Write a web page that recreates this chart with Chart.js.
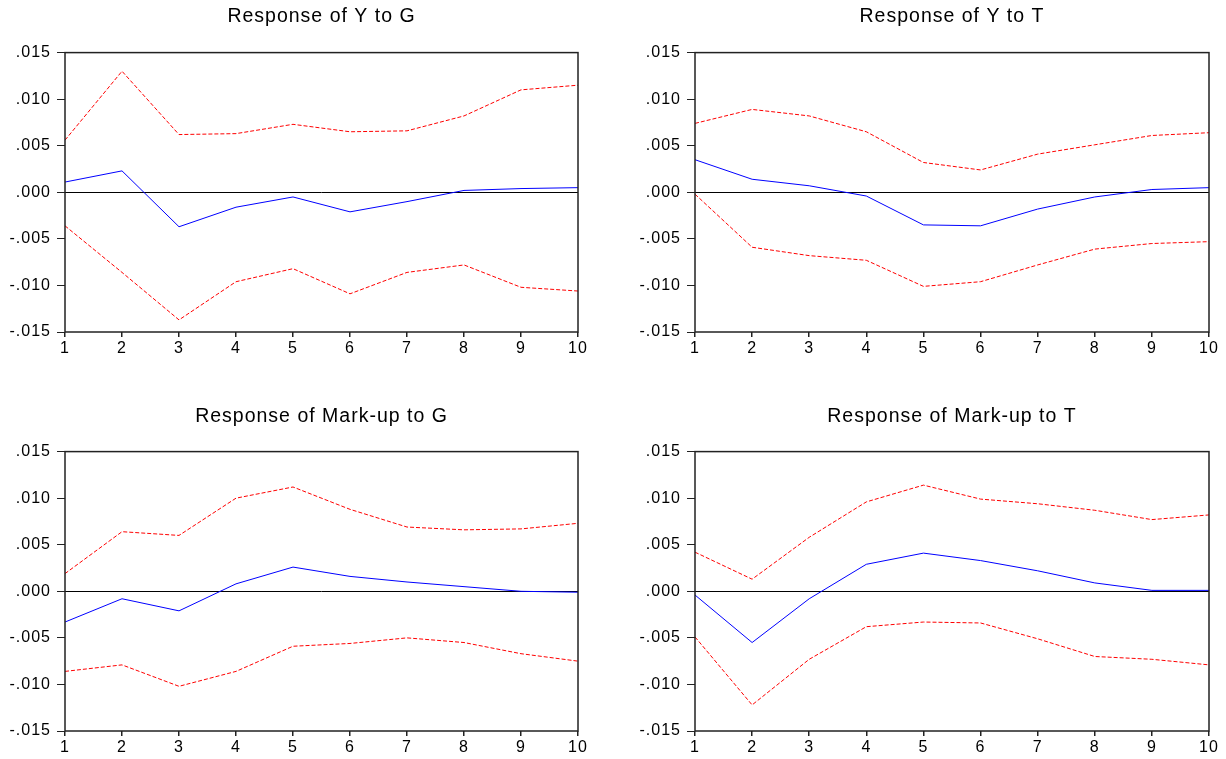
<!DOCTYPE html>
<html><head><meta charset="utf-8">
<script src="https://cdn.jsdelivr.net/npm/chart.js@4.4.1/dist/chart.umd.min.js"></script>
<style>
html,body{margin:0;padding:0;background:#fff;overflow:hidden;width:1226px;height:759px;position:relative;}
.panel{position:absolute;}
</style></head><body>
<div class="panel" style="left:0px;top:0px;width:643px;height:379px"><canvas id="c1"></canvas></div>
<div class="panel" style="left:630px;top:0px;width:644px;height:379px"><canvas id="c2"></canvas></div>
<div class="panel" style="left:0px;top:379px;width:643px;height:380px"><canvas id="c3"></canvas></div>
<div class="panel" style="left:630px;top:379px;width:644px;height:380px"><canvas id="c4"></canvas></div>
<script>
// ---- data ----
const horizons = ['1','2','3','4','5','6','7','8','9','10'];
const yTickValues = [-0.015, -0.010, -0.005, 0.000, 0.005, 0.010, 0.015];

const titleYtoG = 'Response of Y to G';
const yToG_resp  = [0.0011, 0.0023, -0.0037, -0.0016, -0.0005, -0.0021, -0.0010, 0.0002, 0.0004, 0.0005];
const yToG_upper = [0.0056, 0.0130, 0.0062, 0.0063, 0.0073, 0.0065, 0.0066, 0.0082, 0.0110, 0.0115];
const yToG_lower = [-0.0036, -0.0086, -0.0137, -0.0096, -0.0082, -0.0109, -0.0086, -0.0078, -0.0102, -0.0106];

const titleYtoT = 'Response of Y to T';
const yToT_resp  = [0.0035, 0.0014, 0.0007, -0.0004, -0.0035, -0.0036, -0.0018, -0.0005, 0.0003, 0.0005];
const yToT_upper = [0.0074, 0.0089, 0.0082, 0.0065, 0.0032, 0.0024, 0.0041, 0.0051, 0.0061, 0.0064];
const yToT_lower = [-0.0002, -0.0059, -0.0068, -0.0073, -0.0101, -0.0096, -0.0078, -0.0061, -0.0055, -0.0053];

const titleMuToG = 'Response of Mark-up to G';
const muToG_resp  = [-0.0033, -0.0008, -0.0021, 0.0008, 0.0026, 0.0016, 0.0010, 0.0005, 0.0000, -0.0001];
const muToG_upper = [0.0019, 0.0064, 0.0060, 0.0100, 0.0112, 0.0088, 0.0069, 0.0066, 0.0067, 0.0073];
const muToG_lower = [-0.0086, -0.0079, -0.0102, -0.0086, -0.0059, -0.0056, -0.0050, -0.0055, -0.0067, -0.0075];

const titleMuToT = 'Response of Mark-up to T';
const muToT_resp  = [-0.0004, -0.0055, -0.0008, 0.0029, 0.0041, 0.0033, 0.0022, 0.0009, 0.0001, 0.0001];
const muToT_upper = [0.0042, 0.0013, 0.0058, 0.0096, 0.0114, 0.0099, 0.0094, 0.0087, 0.0077, 0.0082];
const muToT_lower = [-0.0049, -0.0122, -0.0073, -0.0038, -0.0033, -0.0034, -0.0051, -0.0070, -0.0073, -0.0079];

// ---- styling / layout ----
const FONT = '"Liberation Sans", Arial, sans-serif';
const AXIS_COLOR = '#222';

const spacingPlugin = {
  id: 'spacing',
  beforeDraw(chart) { chart.ctx.letterSpacing = '1px'; }
};
const framePlugin = {
  id: 'frame',
  afterDatasetsDraw(chart) {
    const {ctx, chartArea: a} = chart;
    ctx.save();
    ctx.strokeStyle = AXIS_COLOR;
    ctx.lineWidth = 1.5;
    ctx.strokeRect(a.left, a.top, a.right - a.left, a.bottom - a.top);
    ctx.restore();
  }
};

function fmt(v) {
  const r = Math.round(v * 1000) / 1000 + 0;
  const s = r.toFixed(3);
  return s.replace('0.', '.');
}

function makePanel(id, title, resp, upper, lower, lay) {
  new Chart(document.getElementById(id), {
    type: 'line',
    data: {
      labels: horizons,
      datasets: [
        {data: upper, borderColor: '#ff0000', borderWidth: 1, borderDash: [4, 2], pointRadius: 0, tension: 0, fill: false},
        {data: lower, borderColor: '#ff0000', borderWidth: 1, borderDash: [4, 2], pointRadius: 0, tension: 0, fill: false},
        {data: resp, borderColor: '#0000ff', borderWidth: 1, pointRadius: 0, tension: 0, fill: false}
      ]
    },
    options: {
      responsive: true,
      maintainAspectRatio: false,
      animation: false,
      events: [],
      layout: {padding: 0},
      plugins: {
        legend: {display: false},
        tooltip: {enabled: false},
        title: {
          display: true,
          text: title,
          color: '#000',
          font: {family: FONT, size: 19.5, weight: 'normal', lineHeight: 1.2},
          padding: {top: lay.titleTop, bottom: lay.titleBottom}
        }
      },
      scales: {
        x: {
          type: 'category',
          offset: false,
          border: {display: false},
          grid: {display: true, drawOnChartArea: false, tickLength: 5, tickColor: AXIS_COLOR, lineWidth: 1.5},
          ticks: {color: '#000', font: {family: FONT, size: 16}, padding: 2, maxRotation: 0, autoSkip: false},
          afterFit(scale) { scale.height = lay.xHeight; }
        },
        y: {
          min: -0.015,
          max: 0.015,
          border: {display: false},
          afterBuildTicks(scale) { scale.ticks = yTickValues.map(v => ({value: v})); },
          grid: {
            display: true,
            drawOnChartArea: true,
            tickLength: 8,
            tickColor: AXIS_COLOR,
            color: ctx => (ctx.tick && Math.abs(ctx.tick.value) < 1e-9) ? '#000' : 'rgba(0,0,0,0)',
            lineWidth: 1
          },
          ticks: {color: '#000', font: {family: FONT, size: 16}, padding: 6, callback: v => fmt(v)},
          afterFit(scale) { scale.width = lay.yWidth; }
        },
        spacer: {
          type: 'linear',
          position: 'right',
          min: 0,
          max: 1,
          display: true,
          border: {display: false},
          grid: {display: false},
          ticks: {display: false},
          afterFit(scale) { scale.width = lay.yWidth; }
        }
      }
    },
    plugins: [spacingPlugin, framePlugin]
  });
}

const topLay = {yWidth: 65, titleTop: 5, titleBottom: 24.2, xHeight: 47};
const botLay = {yWidth: 65, titleTop: 26, titleBottom: 23.2, xHeight: 28};

makePanel('c1', titleYtoG, yToG_resp, yToG_upper, yToG_lower, topLay);
makePanel('c2', titleYtoT, yToT_resp, yToT_upper, yToT_lower, topLay);
makePanel('c3', titleMuToG, muToG_resp, muToG_upper, muToG_lower, botLay);
makePanel('c4', titleMuToT, muToT_resp, muToT_upper, muToT_lower, botLay);
</script>
</body></html>
